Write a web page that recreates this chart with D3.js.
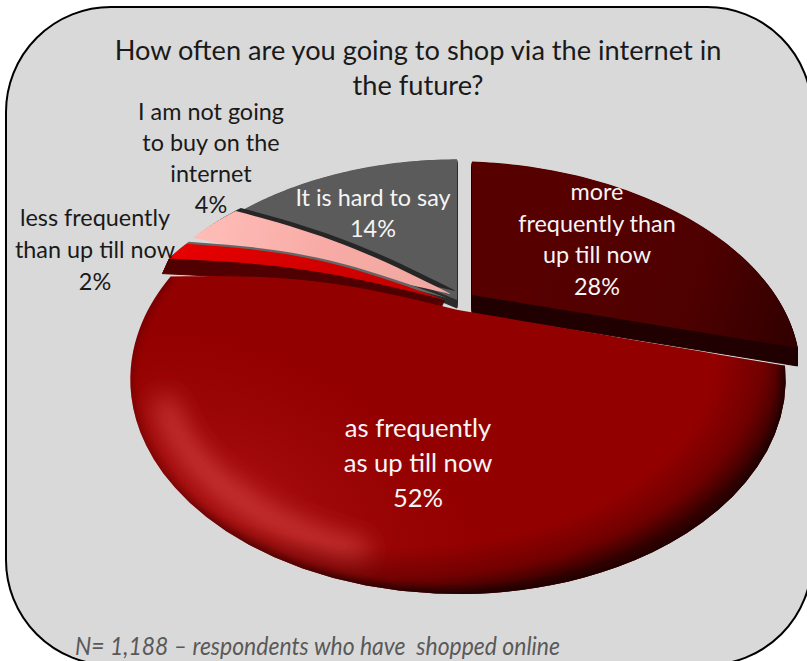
<!DOCTYPE html>
<html>
<head>
<meta charset="utf-8">
<script src="https://cdn.jsdelivr.net/npm/d3@7/dist/d3.min.js"></script>
<style>
  html, body { margin: 0; padding: 0; background: #ffffff; }
  svg { display: block; }
  text { font-family: Lato, "Open Sans", sans-serif; }
</style>
</head>
<body>
<svg id="chart" width="807" height="661"></svg>
<script>
// Survey answers, in clockwise order from twelve o'clock
const categories = [
  "more frequently than up till now",
  "as frequently as up till now",
  "less frequently than up till now",
  "I am not going to buy on the internet",
  "It is hard to say"
];
const shares = [28, 52, 2, 4, 14];
const labelLines = [
  ["more", "frequently than", "up till now"],
  ["as frequently", "as up till now"],
  ["less frequently", "than up till now"],
  ["I am not going", "to buy on the", "internet"],
  ["It is hard to say"]
];
const titleLines = ["How often are you going to shop via the internet in", "the future?"];
const footnote = "N= 1,188 \u2013 respondents who have  shopped online";

const W = 807, H = 661;
const svg = d3.select("#chart");
const defs = svg.append("defs");

// Tilted-disc projection: far side compressed, near side enlarged
const radius = d3.scaleLinear().domain([0, 1]).range([0, 310]);
const depthScale = d3.scaleLinear().domain([0, 1]).range([0, 192]);
const PERSPECTIVE = 0.324;
const DEG = Math.PI / 180;

function project(theta, r, look) {
  const warp = (look.warp === undefined ? 10 : look.warp) * DEG;
  const t = theta - warp * Math.cos(theta) * Math.abs(Math.sin(theta));
  const u = r * Math.sin(t), v = r * Math.cos(t);
  const w = 1 / (1 + PERSPECTIVE * v);
  const x = radius(u) * w;
  const y = -depthScale(v) * w * (look.squash || 1);
  return [look.x + x, look.y + y + x * (look.shear || 0)];
}

// Placement of each exploded slice on the page
const looks = [
  { x: 472, y: 295, squash: 0.92, shear: 0.035, wall: 18, wallColor: "#200000", fill: "url(#fillMore)" },
  { x: 458, y: 310, warp: 25, bulge: 12, fill: "#930000" },
  { x: 445, y: 300, squash: 0.9, bulge: 12, bulgeStart: 9, wall: 15, wallDx: -0.45, wallColor: "#500000", rimColor: "#666666", rim: [2, -2], fill: "url(#fillLess)" },
  { x: 451, y: 294, squash: 0.9, bulge: 8, rimColor: "#262626", rim: [5, -3], fill: "url(#fillNot)" },
  { x: 457, y: 300, squash: 0.97, wall: 8, wallColor: "#2b2b2b", fill: "#5b5b5b" }
];

const arcs = d3.pie().sort(null).value(d => d).startAngle(0).endAngle(2 * Math.PI)(shares);

function rimPoints(a, look) {
  return d3.range(0, 61).map(i =>
    project(a.startAngle + (a.endAngle - a.startAngle) * i / 60, 1, look));
}
// A straight radial edge, swollen slightly where the surface is domed
function edge(from, to, swell) {
  return d3.range(1, 20).map(i => {
    const f = i / 20;
    return [
      from[0] + (to[0] - from[0]) * f,
      from[1] + (to[1] - from[1]) * f - swell * Math.sin(Math.PI * f)
    ];
  });
}
function slicePoints(a, look) {
  const apex = [look.x, look.y];
  const rim = rimPoints(a, look);
  return [apex]
    .concat(edge(apex, rim[0], look.bulgeStart || 0))
    .concat(rim)
    .concat(edge(rim[rim.length - 1], apex, look.bulge || 0));
}
const outline = d3.line().curve(d3.curveLinearClosed);
const openLine = d3.line();

function linear(id, x1, y1, x2, y2, stops) {
  const g = defs.append("linearGradient").attr("id", id)
    .attr("gradientUnits", "userSpaceOnUse")
    .attr("x1", x1).attr("y1", y1).attr("x2", x2).attr("y2", y2);
  stops.forEach(s => g.append("stop").attr("offset", s[0]).attr("stop-color", s[1]).attr("stop-opacity", s[2] === undefined ? 1 : s[2]));
}
function radial(id, cx, cy, rx, ry, angle, stops) {
  const g = defs.append("radialGradient").attr("id", id)
    .attr("gradientUnits", "userSpaceOnUse")
    .attr("cx", 0).attr("cy", 0).attr("r", 1)
    .attr("gradientTransform", `translate(${cx},${cy}) rotate(${angle}) scale(${rx},${ry})`);
  stops.forEach(s => g.append("stop").attr("offset", s[0]).attr("stop-color", s[1]).attr("stop-opacity", s[2] === undefined ? 1 : s[2]));
}
function blur(id, amount) {
  defs.append("filter").attr("id", id)
    .attr("filterUnits", "userSpaceOnUse")
    .attr("x", 0).attr("y", 0).attr("width", W).attr("height", H)
    .append("feGaussianBlur").attr("stdDeviation", amount);
}

linear("fillMore", 560, 220, 800, 300, [[0, "#560000"], [0.6, "#4e0000"], [1, "#330000"]]);
linear("fillLess", 170, 250, 440, 295, [[0, "#e80000"], [0.5, "#d40000"], [1, "#c40000"]]);
linear("fillNot", 200, 220, 440, 290, [[0, "#ffbdb8"], [0.5, "#f8aba6"], [1, "#f0a8a0"]]);
radial("farShade", 400, 350, 395, 247, 0, [
  [0.8, "#250000", 0], [0.92, "#250000", 0.3], [1, "#150000", 0.75]
]);
radial("broadGlow", 245, 490, 260, 140, 25, [
  [0, "#c02020", 0.45], [0.5, "#b81818", 0.2], [1, "#b01010", 0]
]);
linear("edgeDark", 130, 0, 470, 0, [[0, "#300000", 0.25], [0.45, "#300000", 0.65], [1, "#1a0000", 0.95]]);
blur("softEdge", 3);
blur("softGlow", 13);

// Card behind the chart
svg.append("rect")
  .attr("x", 6).attr("y", 7).attr("width", 806).attr("height", 658)
  .attr("rx", 105).attr("ry", 105)
  .attr("fill", "#d9d9d9").attr("stroke", "#000000").attr("stroke-width", 2);

// Back slices first so the large front slice overlaps them
const order = [4, 0, 3, 2, 1];
const pie = svg.append("g").attr("class", "pie");

order.forEach(i => {
  const look = looks[i];
  const d = outline(slicePoints(arcs[i], look));
  const g = pie.append("g").attr("class", "slice").attr("data-name", categories[i]);
  if (look.wall) {
    g.selectAll("path.wall").data(d3.range(1, look.wall + 1)).join("path")
      .attr("class", "wall")
      .attr("d", d)
      .attr("transform", n => `translate(${n * (look.wallDx || 0)},${n})`)
      .attr("fill", look.wallColor)
      .attr("stroke", look.wallColor).attr("stroke-linejoin", "round");
  }
  if (look.rim) {
    g.append("path").attr("d", d)
      .attr("transform", `translate(${look.rim[0]},${look.rim[1]})`)
      .attr("fill", look.rimColor);
  }
  g.append("path").attr("d", d).attr("fill", look.fill);

  // The front slice carries the dome shading, kept inside its outline
  if (i === 1) {
    defs.append("clipPath").attr("id", "frontClip").append("path").attr("d", d);
    const shade = g.append("g").attr("clip-path", "url(#frontClip)");
    shade.append("rect").attr("width", W).attr("height", H).attr("fill", "url(#broadGlow)");

    // Crescent highlight running just inside the lower-left rim
    const crescent = d3.range(0, 31).map(n => project((190 + n * 40 / 30) * DEG, 0.92, look));
    shade.append("path").attr("d", openLine(crescent))
      .attr("fill", "none").attr("stroke", "#dc4a4a").attr("stroke-width", 20)
      .attr("stroke-linecap", "round").attr("stroke-opacity", 0.8)
      .attr("filter", "url(#softGlow)");

    shade.append("rect").attr("width", W).attr("height", H).attr("fill", "url(#farShade)");
    shade.append("path").attr("d", openLine(rimPoints(arcs[i], look)))
      .attr("fill", "none").attr("stroke", "url(#edgeDark)").attr("stroke-width", 8)
      .attr("filter", "url(#softEdge)");
  }
});

// Title
const title = svg.append("g").attr("text-anchor", "middle").attr("fill", "#1a1a1a").style("font-size", "27.2px");
titleLines.forEach((t, i) => {
  title.append("text").attr("x", 418).attr("y", 60 + i * 35).text(t);
});

// Slice labels: the wording, then the share on its own line
const labelPlaces = [
  { x: 597, y: 200, step: 31.5, size: 23.4, color: "#f5f5f5" },
  { x: 418, y: 437, step: 35, size: 25.6, color: "#f5f5f5" },
  { x: 95, y: 226, step: 32, size: 23.4, color: "#1a1a1a" },
  { x: 211, y: 120, step: 31, size: 23.4, color: "#1a1a1a" },
  { x: 373, y: 206, step: 31, size: 23.4, color: "#f5f5f5" }
];
shares.forEach((v, i) => {
  const p = labelPlaces[i];
  const g = svg.append("g").attr("text-anchor", "middle").attr("fill", p.color).style("font-size", p.size + "px");
  labelLines[i].concat([v + "%"]).forEach((t, j) => {
    g.append("text").attr("x", p.x).attr("y", p.y + j * p.step).text(t);
  });
});

// Sample size note
svg.append("text")
  .attr("x", 75).attr("y", 655)
  .attr("textLength", 485).attr("lengthAdjust", "spacingAndGlyphs")
  .attr("fill", "#595959").attr("font-style", "italic").style("font-size", "25px")
  .style("white-space", "pre")
  .text(footnote);
</script>
</body>
</html>
